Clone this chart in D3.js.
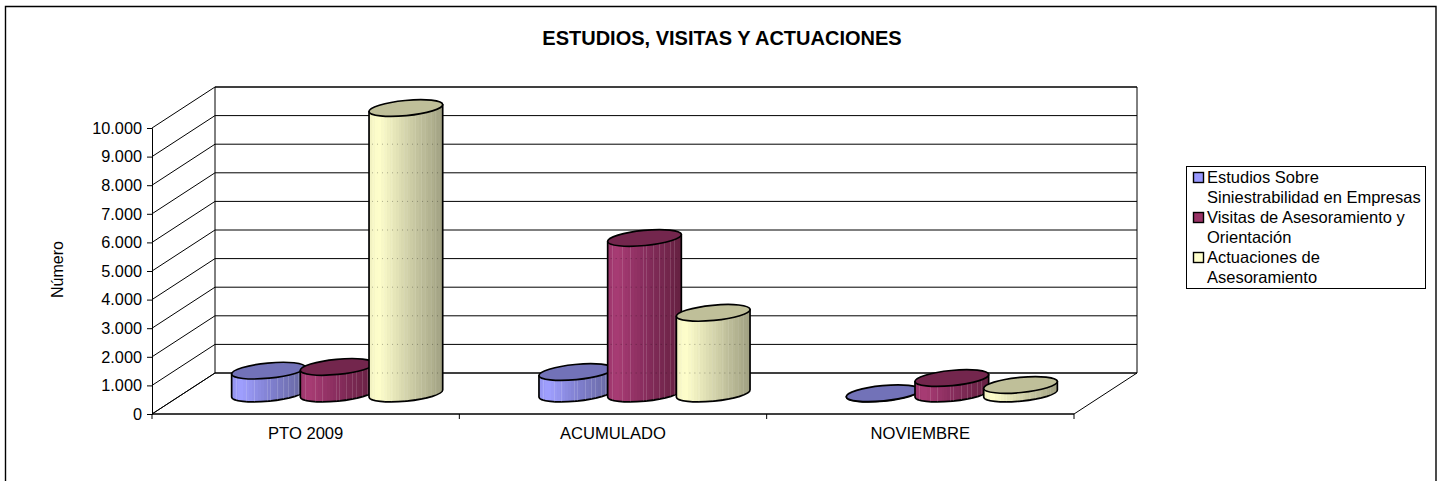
<!DOCTYPE html>
<html><head><meta charset="utf-8">
<script src="https://cdn.jsdelivr.net/npm/d3@7/dist/d3.min.js"></script>
<style>
html,body{margin:0;padding:0;background:#fff}
svg{display:block}
text{font-family:"Liberation Sans",Arial,sans-serif;fill:#000}
</style></head><body>
<svg id="c" width="1442" height="481"></svg>
<script>
const categories = ["PTO 2009","ACUMULADO","NOVIEMBRE"];
const seriesNames = ["Estudios Sobre Siniestrabilidad en Empresas","Visitas de Asesoramiento y Orientación","Actuaciones de Asesoramiento"];
const legendLines = [["Estudios Sobre","Siniestrabilidad en Empresas"],["Visitas de Asesoramiento y","Orientación"],["Actuaciones de","Asesoramiento"]];
const estudios = [800, 750, 10];
const visitas = [930, 5440, 540];
const actuaciones = [9980, 2820, 300];
const seriesValues = [estudios, visitas, actuaciones];
const yTicks = [0,1000,2000,3000,4000,5000,6000,7000,8000,9000,10000];

const styles = [
  {light:"#a0a0ff",mid:"#8080d0",dark:"#66669c",top:"#7272b8",swatch:"#9999ff",sa:.16,da:.0},
  {light:"#a83c74",mid:"#862c5c",dark:"#642040",top:"#73264d",swatch:"#993366",sa:.14,da:.3},
  {light:"#ffffcc",mid:"#d2d2aa",dark:"#9e9e80",top:"#bfbf99",swatch:"#ffffcc",sa:.08,da:.3}
];
const stripeAt = [.06,.2,.3,.48,.52,.62,.7,.76,.84,.9];

const svg = d3.select("#c");
const F = {l:152,r:1074,b:414,t:128};
const dx = 63, dy = -41;
const x0 = d3.scaleBand().domain(categories).range([F.l,F.r]);
const x1 = d3.scalePoint().domain(d3.range(3)).range([-68.7,68.7]);
const y = d3.scaleLinear().domain([0,10000]).range([F.b,F.t]);
const fmt = d3.formatLocale({decimal:",",thousands:".",grouping:[3],currency:["",""]}).format(",d");

const defs = svg.append("defs");
styles.forEach((s,i)=>{
  const g = defs.append("linearGradient").attr("id","g"+i);
  const col = d3.scaleLinear().domain([0,.1,.5,1]).range([d3.interpolateRgb(s.light,s.mid)(.3),s.light,s.mid,s.dark]);
  d3.range(0,1,.04).forEach(t=>{
    g.append("stop").attr("offset",t).attr("stop-color",col(t));
    g.append("stop").attr("offset",t+.04).attr("stop-color",col(t));
  });
  const p = defs.append("linearGradient").attr("id","s"+i);
  stripeAt.forEach(t=>{
    p.append("stop").attr("offset",t).attr("stop-color","#fff").attr("stop-opacity",0);
    p.append("stop").attr("offset",t).attr("stop-color","#fff").attr("stop-opacity",s.sa);
    p.append("stop").attr("offset",t+.014).attr("stop-color","#fff").attr("stop-opacity",s.sa);
    p.append("stop").attr("offset",t+.014).attr("stop-color","#fff").attr("stop-opacity",0);
  });
});

svg.append("path").attr("d","M5.5,481V6.5H1436V481").attr("fill","none").attr("stroke","#000").attr("stroke-width",1.4);

svg.append("text").attr("x",722).attr("y",45).attr("text-anchor","middle")
  .attr("font-size",20).attr("font-weight","bold").text("ESTUDIOS, VISITAS Y ACTUACIONES");

const wall = svg.append("g").attr("fill","none").attr("stroke","#000");
wall.append("path").attr("d",`M${F.l},${F.b}L${F.l+dx},${F.b+dy}H${F.r+dx}L${F.r},${F.b}Z`);
wall.append("path").attr("d",`M${F.l+dx},${F.b+dy}V${F.t+dy}H${F.r+dx}V${F.b+dy}`);
wall.selectAll(".gl").data(yTicks).join("path").attr("class","gl")
  .attr("d",d=>`M${F.l},${y(d)}L${F.l+dx},${y(d)+dy}H${F.r+dx}`);

const yAxis = d3.axisLeft(y).tickValues(yTicks).tickFormat(fmt).tickSize(5).tickPadding(5);
const gy = svg.append("g").attr("transform",`translate(${F.l},0)`).call(yAxis);
gy.selectAll("text").attr("font-size",16.3).attr("font-family",null);
gy.selectAll(".domain,line").attr("stroke","#000");
const xAxis = d3.axisBottom(x0).tickSize(0).tickPadding(13);
const gx = svg.append("g").attr("transform",`translate(0,${F.b})`).call(xAxis);
gx.selectAll("text").attr("font-size",16.6).attr("font-family",null);
gx.select(".domain").remove();
svg.append("g").selectAll("path").data(d3.range(4)).join("path")
  .attr("stroke","#000").attr("d",i=>{const X=F.l+i*x0.step();return `M${X},${F.b}V${F.b+5}`});
svg.append("path").attr("stroke","#000").attr("stroke-width",1).attr("d",`M${F.l},${F.b}H${F.r}`);

svg.append("text").attr("transform","translate(63,269.5) rotate(-90)").attr("text-anchor","middle")
  .attr("font-size",16).text("Número");

const rx=37, ry=7.6, rot=-5.5, a=rot*Math.PI/180;
const ex=rx*Math.cos(a), ey=-rx*Math.sin(a);
const marks = svg.append("g");
categories.forEach((c,ci)=>{
  seriesValues.forEach((vals,si)=>{
    const cx = x0(c)+x0.bandwidth()/2 + dx/2 + x1(si);
    const yb = y(0)+dy/2;
    const yt = y(vals[ci])+dy/2;
    const g = marks.append("g").attr("stroke","#000").attr("stroke-width",1.7).attr("stroke-linejoin","round");
    const body = `M${cx-ex},${yt+ey}L${cx-ex},${yb+ey}A${rx},${ry} ${rot} 0 0 ${cx+ex},${yb-ey}L${cx+ex},${yt-ey}Z`;
    g.append("path").attr("d",body).attr("fill",`url(#g${si})`);
    g.append("path").attr("d",body).attr("fill",`url(#s${si})`).attr("stroke","none");
    if(styles[si].da>0){
      yTicks.map(t=>y(t)+dy).filter(v=>v>yt+10&&v<yb).forEach(v=>{
        g.append("path").attr("d",`M${cx-ex+3},${v}H${cx+ex-2}`).attr("stroke","#000").attr("stroke-width",1)
          .attr("stroke-opacity",styles[si].da).attr("stroke-dasharray","1 4");
      });
    }
    g.append("ellipse").attr("cx",cx).attr("cy",yt).attr("rx",rx).attr("ry",ry)
      .attr("transform",`rotate(${rot} ${cx} ${yt})`).attr("fill",styles[si].top);
  });
});

const lg = svg.append("g");
lg.append("rect").attr("x",1186.5).attr("y",166.5).attr("width",239).attr("height",122).attr("fill","#fff").attr("stroke","#000");
legendLines.forEach((ls,i)=>{
  const yy = 177.5+i*40;
  lg.append("rect").attr("x",1193.5).attr("y",yy-5).attr("width",10).attr("height",10).attr("fill",styles[i].swatch).attr("stroke","#000").attr("stroke-width",1.4);
  ls.forEach((t,j)=>lg.append("text").attr("x",1207).attr("y",yy+5.5+j*19.9).attr("font-size",16.5).text(t));
});
</script>
</body></html>
